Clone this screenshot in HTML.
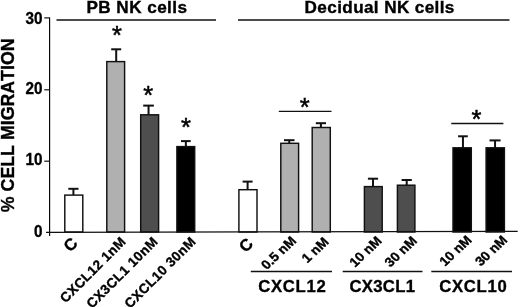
<!DOCTYPE html>
<html><head><meta charset="utf-8"><title>Cell migration chart</title>
<style>
html,body{margin:0;padding:0;background:#fff;}
body{width:520px;height:307px;overflow:hidden;}
text{stroke:#000;stroke-width:0.35px;}
text.s{stroke-width:0.5px;}
svg{display:block;font-kerning:none;font-family:"Liberation Sans",Arial,Helvetica,sans-serif;fill:#000;}
</style></head><body>
<svg width="520" height="307" viewBox="0 0 520 307">
<rect width="520" height="307" fill="#fff"/>
<line x1="73.4" y1="188.8" x2="73.4" y2="195.5" stroke="#111" stroke-width="2"/>
<line x1="68.3" y1="188.8" x2="78.5" y2="188.8" stroke="#111" stroke-width="2"/>
<rect x="64.8" y="195.1" width="18.0" height="36.9" fill="#fff" stroke="#111" stroke-width="1.45"/>
<line x1="116.2" y1="49.3" x2="116.2" y2="62" stroke="#111" stroke-width="2"/>
<line x1="111.2" y1="49.3" x2="121.2" y2="49.3" stroke="#111" stroke-width="2"/>
<rect x="106.8" y="61.6" width="17.8" height="170.4" fill="#b0b0b0" stroke="#111" stroke-width="1.45"/>
<line x1="148.55" y1="105.6" x2="148.55" y2="115.2" stroke="#111" stroke-width="2"/>
<line x1="143.2" y1="105.6" x2="153.9" y2="105.6" stroke="#111" stroke-width="2"/>
<rect x="140.7" y="114.8" width="17.9" height="117.2" fill="#4e4e4e" stroke="#111" stroke-width="1.45"/>
<line x1="185.85" y1="141.1" x2="185.85" y2="147" stroke="#111" stroke-width="2"/>
<line x1="181" y1="141.1" x2="190.7" y2="141.1" stroke="#111" stroke-width="2"/>
<rect x="176.9" y="146.6" width="17.8" height="85.4" fill="#000" stroke="#111" stroke-width="1.45"/>
<line x1="247.6" y1="181.6" x2="247.6" y2="190.1" stroke="#111" stroke-width="2"/>
<line x1="242.6" y1="181.6" x2="252.6" y2="181.6" stroke="#111" stroke-width="2"/>
<rect x="238.9" y="189.7" width="18.1" height="42.3" fill="#fff" stroke="#111" stroke-width="1.45"/>
<line x1="289.25" y1="140.2" x2="289.25" y2="143.7" stroke="#111" stroke-width="2"/>
<line x1="284" y1="140.2" x2="294.5" y2="140.2" stroke="#111" stroke-width="2"/>
<rect x="280.8" y="143.3" width="17.8" height="88.7" fill="#b0b0b0" stroke="#111" stroke-width="1.45"/>
<line x1="320.9" y1="123.2" x2="320.9" y2="127.9" stroke="#111" stroke-width="2"/>
<line x1="315.8" y1="123.2" x2="326" y2="123.2" stroke="#111" stroke-width="2"/>
<rect x="312.2" y="127.5" width="18.1" height="104.5" fill="#b0b0b0" stroke="#111" stroke-width="1.45"/>
<line x1="373.0" y1="178.7" x2="373.0" y2="187" stroke="#111" stroke-width="2"/>
<line x1="367.9" y1="178.7" x2="378.1" y2="178.7" stroke="#111" stroke-width="2"/>
<rect x="364.4" y="186.6" width="17.8" height="45.4" fill="#4e4e4e" stroke="#111" stroke-width="1.45"/>
<line x1="406.7" y1="180" x2="406.7" y2="185.6" stroke="#111" stroke-width="2"/>
<line x1="401.6" y1="180" x2="411.8" y2="180" stroke="#111" stroke-width="2"/>
<rect x="397.4" y="185.2" width="17.5" height="46.8" fill="#4e4e4e" stroke="#111" stroke-width="1.45"/>
<line x1="462.95" y1="136.3" x2="462.95" y2="148.2" stroke="#111" stroke-width="2"/>
<line x1="458.1" y1="136.3" x2="467.8" y2="136.3" stroke="#111" stroke-width="2"/>
<rect x="453.0" y="147.8" width="18.3" height="84.2" fill="#000" stroke="#111" stroke-width="1.45"/>
<line x1="495.05" y1="140.4" x2="495.05" y2="148.2" stroke="#111" stroke-width="2"/>
<line x1="489.5" y1="140.4" x2="500.6" y2="140.4" stroke="#111" stroke-width="2"/>
<rect x="486.1" y="147.8" width="18.3" height="84.2" fill="#000" stroke="#111" stroke-width="1.45"/>
<line x1="49.6" y1="17.4" x2="49.6" y2="236" stroke="#000" stroke-width="1.15"/>
<line x1="46" y1="232.3" x2="517.7" y2="231.45" stroke="#111" stroke-width="1.3"/>
<line x1="44.3" y1="17.9" x2="49.6" y2="17.9" stroke="#111" stroke-width="1.2"/>
<line x1="44.3" y1="89.8" x2="49.6" y2="89.8" stroke="#111" stroke-width="1.2"/>
<line x1="44.3" y1="161.2" x2="49.6" y2="161.2" stroke="#111" stroke-width="1.2"/>
<line x1="56.5" y1="20" x2="216" y2="20" stroke="#111" stroke-width="1.3"/>
<line x1="238" y1="20" x2="509.5" y2="20" stroke="#111" stroke-width="1.3"/>
<line x1="278.8" y1="111.4" x2="331.5" y2="111.4" stroke="#111" stroke-width="1.3"/>
<line x1="451.3" y1="123.5" x2="503.4" y2="123.5" stroke="#111" stroke-width="1.3"/>
<line x1="250.8" y1="271.5" x2="332" y2="271.5" stroke="#111" stroke-width="1.3"/>
<line x1="342.7" y1="271.5" x2="422.5" y2="271.5" stroke="#111" stroke-width="1.3"/>
<line x1="431.3" y1="271.5" x2="512" y2="271.5" stroke="#111" stroke-width="1.3"/>
<text transform="translate(86.5,12.5) scale(1.0,1) rotate(0) scale(1.045,1)" font-size="16.4" font-weight="bold" text-anchor="start" letter-spacing="0.42">PB NK cells</text>
<text transform="translate(304.6,12.6) scale(1.0,1) rotate(0) scale(1.045,1)" font-size="16.4" font-weight="bold" text-anchor="start" letter-spacing="0.36">Decidual NK cells</text>
<text transform="translate(42.4,24.0) scale(1.0,1) rotate(0) scale(0.91,1)" font-size="16.8" font-weight="bold" text-anchor="end" >30</text>
<text transform="translate(42.4,93.6) scale(1.0,1) rotate(0) scale(0.91,1)" font-size="16.8" font-weight="bold" text-anchor="end" >20</text>
<text transform="translate(42.4,164.6) scale(1.0,1) rotate(0) scale(0.91,1)" font-size="16.8" font-weight="bold" text-anchor="end" >10</text>
<text transform="translate(42.4,236.7) scale(1.0,1) rotate(0) scale(0.91,1)" font-size="16.8" font-weight="bold" text-anchor="end" >0</text>
<text transform="translate(14,125.3) rotate(-90) scale(1.016,1)" font-size="17.5" font-weight="bold" text-anchor="middle">% CELL MIGRATION</text>
<text transform="translate(117,44.099999999999994) scale(1.0,1) rotate(0) scale(1.0,1)" font-size="25.5" font-weight="normal" text-anchor="middle" class="s">*</text>
<text transform="translate(148.3,103.9) scale(1.0,1) rotate(0) scale(1.0,1)" font-size="25.5" font-weight="normal" text-anchor="middle" class="s">*</text>
<text transform="translate(186,136.2) scale(1.0,1) rotate(0) scale(1.0,1)" font-size="25.5" font-weight="normal" text-anchor="middle" class="s">*</text>
<text transform="translate(304.8,115.9) scale(1.0,1) rotate(0) scale(1.0,1)" font-size="25.5" font-weight="normal" text-anchor="middle" class="s">*</text>
<text transform="translate(476.5,128.29999999999998) scale(1.0,1) rotate(0) scale(1.0,1)" font-size="25.5" font-weight="normal" text-anchor="middle" class="s">*</text>
<text transform="translate(126.8,242.3) scale(1.0,1) rotate(-45) scale(1.0,1)" font-size="13.5" font-weight="bold" text-anchor="end" letter-spacing="0.4" stroke="#000" stroke-width="0.35">CXCL12 1nM</text>
<text transform="translate(158.8,242.3) scale(1.0,1) rotate(-45) scale(1.0,1)" font-size="13.5" font-weight="bold" text-anchor="end" letter-spacing="0.4" stroke="#000" stroke-width="0.35">CX3CL1 10nM</text>
<text transform="translate(196.8,242.3) scale(1.0,1) rotate(-45) scale(1.0,1)" font-size="13.5" font-weight="bold" text-anchor="end" letter-spacing="0.4" stroke="#000" stroke-width="0.35">CXCL10 30nM</text>
<text transform="translate(78.7,244.3) scale(1.0,1) rotate(-45) scale(1.0,1)" font-size="16.5" font-weight="bold" text-anchor="end" >C</text>
<text transform="translate(254.2,244.7) scale(1.0,1) rotate(-45) scale(1.0,1)" font-size="16.5" font-weight="bold" text-anchor="end" >C</text>
<text transform="translate(297.0,241.7) scale(1.06,1) rotate(-45) scale(1.0,1)" font-size="13" font-weight="bold" text-anchor="end" stroke="#000" stroke-width="0.3">0.5 nM</text>
<text transform="translate(329.5,242.7) scale(1.06,1) rotate(-45) scale(1.0,1)" font-size="13" font-weight="bold" text-anchor="end" stroke="#000" stroke-width="0.3">1 nM</text>
<text transform="translate(382.5,241.7) scale(1.06,1) rotate(-45) scale(1.0,1)" font-size="13" font-weight="bold" text-anchor="end" stroke="#000" stroke-width="0.3">10 nM</text>
<text transform="translate(417.8,241.7) scale(1.06,1) rotate(-45) scale(1.0,1)" font-size="13" font-weight="bold" text-anchor="end" stroke="#000" stroke-width="0.3">30 nM</text>
<text transform="translate(472.5,240.79999999999998) scale(1.06,1) rotate(-45) scale(1.0,1)" font-size="13" font-weight="bold" text-anchor="end" stroke="#000" stroke-width="0.3">10 nM</text>
<text transform="translate(508.2,240.79999999999998) scale(1.06,1) rotate(-45) scale(1.0,1)" font-size="13" font-weight="bold" text-anchor="end" stroke="#000" stroke-width="0.3">30 nM</text>
<text transform="translate(258.2,292) scale(1.0,1) rotate(0) scale(1.0,1)" font-size="16.7" font-weight="bold" text-anchor="start" letter-spacing="0.7">CXCL12</text>
<text transform="translate(349.5,292) scale(1.0,1) rotate(0) scale(1.0,1)" font-size="16.7" font-weight="bold" text-anchor="start" letter-spacing="0.3">CX3CL1</text>
<text transform="translate(439.2,291.5) scale(1.0,1) rotate(0) scale(1.0,1)" font-size="16.7" font-weight="bold" text-anchor="start" letter-spacing="0.7">CXCL10</text>
</svg>
</body></html>
